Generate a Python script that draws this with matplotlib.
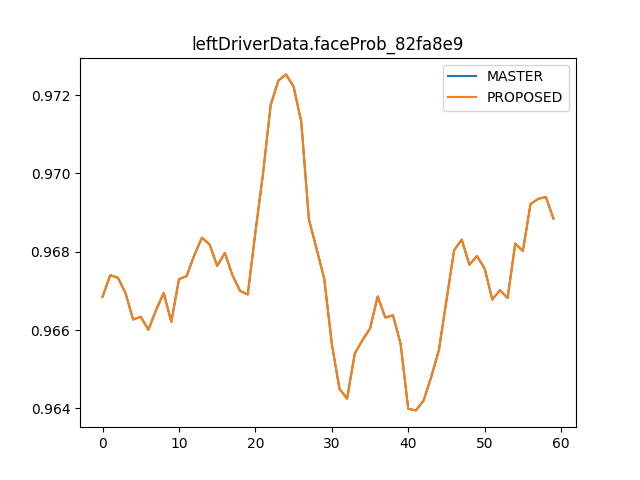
import matplotlib
matplotlib.use("Agg")
import matplotlib.pyplot as plt

# values (both runs give the same numbers)
master = [0.96685, 0.96740, 0.96734, 0.96695, 0.96627, 0.96634, 0.96601, 0.96651, 0.96695, 0.96621,
          0.96730, 0.96738, 0.96791, 0.96836, 0.96819, 0.96764, 0.96797, 0.96740, 0.96700, 0.96691,
          0.96850, 0.97000, 0.97175, 0.97237, 0.97253, 0.97222, 0.97132, 0.96883, 0.96808, 0.96732,
          0.96565, 0.96450, 0.96425, 0.96540, 0.96574, 0.96604, 0.96686, 0.96632, 0.96638, 0.96565,
          0.96399, 0.96395, 0.96420, 0.96480, 0.96548, 0.96676, 0.96804, 0.96831, 0.96767, 0.96789,
          0.96757, 0.96678, 0.96702, 0.96682, 0.96821, 0.96802, 0.96922, 0.96935, 0.96940, 0.96885]
proposed = list(master)
x = list(range(len(master)))

fig, ax = plt.subplots(figsize=(6.4, 4.8), dpi=100)
ax.plot(x, master, label="MASTER")
ax.plot(x, proposed, label="PROPOSED")
ax.set_title("leftDriverData.faceProb_82fa8e9")
ax.legend()
fig.savefig("out.png")
